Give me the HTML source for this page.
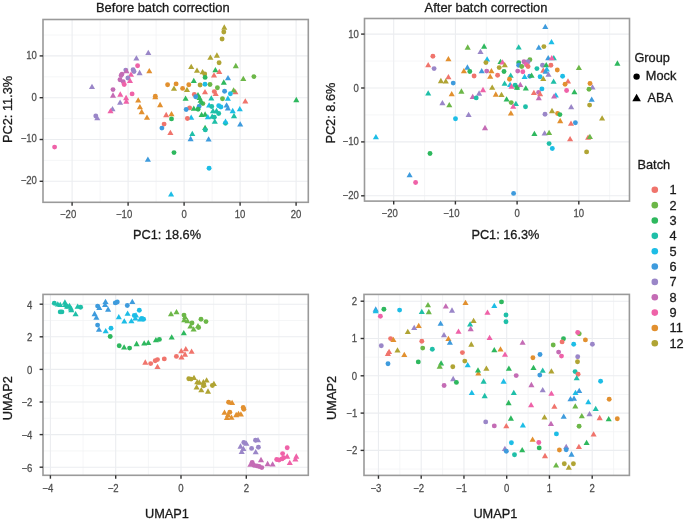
<!DOCTYPE html>
<html><head><meta charset="utf-8"><style>
html,body{margin:0;padding:0;background:#fff;width:685px;height:520px;overflow:hidden}
svg text{font-family:"Liberation Sans", sans-serif}
svg{will-change:transform;filter:blur(0.3px)}
</style></head><body>
<svg width="685" height="520" viewBox="0 0 685 520" style="position:absolute;left:0;top:0">
<rect width="685" height="520" fill="#fff"/>
<line x1="100.10" y1="19.5" x2="100.10" y2="202.3" stroke="#F3F4F5" stroke-width="0.8"/>
<line x1="156.10" y1="19.5" x2="156.10" y2="202.3" stroke="#F3F4F5" stroke-width="0.8"/>
<line x1="212.10" y1="19.5" x2="212.10" y2="202.3" stroke="#F3F4F5" stroke-width="0.8"/>
<line x1="268.10" y1="19.5" x2="268.10" y2="202.3" stroke="#F3F4F5" stroke-width="0.8"/>
<line x1="43" y1="35.00" x2="308.3" y2="35.00" stroke="#F3F4F5" stroke-width="0.8"/>
<line x1="43" y1="76.80" x2="308.3" y2="76.80" stroke="#F3F4F5" stroke-width="0.8"/>
<line x1="43" y1="118.60" x2="308.3" y2="118.60" stroke="#F3F4F5" stroke-width="0.8"/>
<line x1="43" y1="160.40" x2="308.3" y2="160.40" stroke="#F3F4F5" stroke-width="0.8"/>
<line x1="72.10" y1="19.5" x2="72.10" y2="202.3" stroke="#EBEDF0" stroke-width="1.1"/>
<line x1="128.10" y1="19.5" x2="128.10" y2="202.3" stroke="#EBEDF0" stroke-width="1.1"/>
<line x1="184.10" y1="19.5" x2="184.10" y2="202.3" stroke="#EBEDF0" stroke-width="1.1"/>
<line x1="240.10" y1="19.5" x2="240.10" y2="202.3" stroke="#EBEDF0" stroke-width="1.1"/>
<line x1="296.10" y1="19.5" x2="296.10" y2="202.3" stroke="#EBEDF0" stroke-width="1.1"/>
<line x1="43" y1="55.90" x2="308.3" y2="55.90" stroke="#EBEDF0" stroke-width="1.1"/>
<line x1="43" y1="97.70" x2="308.3" y2="97.70" stroke="#EBEDF0" stroke-width="1.1"/>
<line x1="43" y1="139.50" x2="308.3" y2="139.50" stroke="#EBEDF0" stroke-width="1.1"/>
<line x1="43" y1="181.30" x2="308.3" y2="181.30" stroke="#EBEDF0" stroke-width="1.1"/>
<line x1="424.55" y1="18.5" x2="424.55" y2="201.1" stroke="#F3F4F5" stroke-width="0.8"/>
<line x1="486.25" y1="18.5" x2="486.25" y2="201.1" stroke="#F3F4F5" stroke-width="0.8"/>
<line x1="547.95" y1="18.5" x2="547.95" y2="201.1" stroke="#F3F4F5" stroke-width="0.8"/>
<line x1="609.65" y1="18.5" x2="609.65" y2="201.1" stroke="#F3F4F5" stroke-width="0.8"/>
<line x1="364.5" y1="61.05" x2="629.5" y2="61.05" stroke="#F3F4F5" stroke-width="0.8"/>
<line x1="364.5" y1="114.95" x2="629.5" y2="114.95" stroke="#F3F4F5" stroke-width="0.8"/>
<line x1="364.5" y1="168.85" x2="629.5" y2="168.85" stroke="#F3F4F5" stroke-width="0.8"/>
<line x1="393.70" y1="18.5" x2="393.70" y2="201.1" stroke="#EBEDF0" stroke-width="1.1"/>
<line x1="455.40" y1="18.5" x2="455.40" y2="201.1" stroke="#EBEDF0" stroke-width="1.1"/>
<line x1="517.10" y1="18.5" x2="517.10" y2="201.1" stroke="#EBEDF0" stroke-width="1.1"/>
<line x1="578.80" y1="18.5" x2="578.80" y2="201.1" stroke="#EBEDF0" stroke-width="1.1"/>
<line x1="364.5" y1="34.10" x2="629.5" y2="34.10" stroke="#EBEDF0" stroke-width="1.1"/>
<line x1="364.5" y1="88.00" x2="629.5" y2="88.00" stroke="#EBEDF0" stroke-width="1.1"/>
<line x1="364.5" y1="141.90" x2="629.5" y2="141.90" stroke="#EBEDF0" stroke-width="1.1"/>
<line x1="364.5" y1="195.80" x2="629.5" y2="195.80" stroke="#EBEDF0" stroke-width="1.1"/>
<line x1="83.05" y1="294.4" x2="83.05" y2="475.3" stroke="#F3F4F5" stroke-width="0.8"/>
<line x1="148.35" y1="294.4" x2="148.35" y2="475.3" stroke="#F3F4F5" stroke-width="0.8"/>
<line x1="213.65" y1="294.4" x2="213.65" y2="475.3" stroke="#F3F4F5" stroke-width="0.8"/>
<line x1="278.95" y1="294.4" x2="278.95" y2="475.3" stroke="#F3F4F5" stroke-width="0.8"/>
<line x1="43" y1="320.50" x2="308.3" y2="320.50" stroke="#F3F4F5" stroke-width="0.8"/>
<line x1="43" y1="353.10" x2="308.3" y2="353.10" stroke="#F3F4F5" stroke-width="0.8"/>
<line x1="43" y1="385.70" x2="308.3" y2="385.70" stroke="#F3F4F5" stroke-width="0.8"/>
<line x1="43" y1="418.30" x2="308.3" y2="418.30" stroke="#F3F4F5" stroke-width="0.8"/>
<line x1="43" y1="450.90" x2="308.3" y2="450.90" stroke="#F3F4F5" stroke-width="0.8"/>
<line x1="50.40" y1="294.4" x2="50.40" y2="475.3" stroke="#EBEDF0" stroke-width="1.1"/>
<line x1="115.70" y1="294.4" x2="115.70" y2="475.3" stroke="#EBEDF0" stroke-width="1.1"/>
<line x1="181.00" y1="294.4" x2="181.00" y2="475.3" stroke="#EBEDF0" stroke-width="1.1"/>
<line x1="246.30" y1="294.4" x2="246.30" y2="475.3" stroke="#EBEDF0" stroke-width="1.1"/>
<line x1="43" y1="304.20" x2="308.3" y2="304.20" stroke="#EBEDF0" stroke-width="1.1"/>
<line x1="43" y1="336.80" x2="308.3" y2="336.80" stroke="#EBEDF0" stroke-width="1.1"/>
<line x1="43" y1="369.40" x2="308.3" y2="369.40" stroke="#EBEDF0" stroke-width="1.1"/>
<line x1="43" y1="402.00" x2="308.3" y2="402.00" stroke="#EBEDF0" stroke-width="1.1"/>
<line x1="43" y1="434.60" x2="308.3" y2="434.60" stroke="#EBEDF0" stroke-width="1.1"/>
<line x1="43" y1="467.20" x2="308.3" y2="467.20" stroke="#EBEDF0" stroke-width="1.1"/>
<line x1="399.82" y1="294.4" x2="399.82" y2="475.4" stroke="#F3F4F5" stroke-width="0.8"/>
<line x1="442.57" y1="294.4" x2="442.57" y2="475.4" stroke="#F3F4F5" stroke-width="0.8"/>
<line x1="485.32" y1="294.4" x2="485.32" y2="475.4" stroke="#F3F4F5" stroke-width="0.8"/>
<line x1="528.08" y1="294.4" x2="528.08" y2="475.4" stroke="#F3F4F5" stroke-width="0.8"/>
<line x1="570.83" y1="294.4" x2="570.83" y2="475.4" stroke="#F3F4F5" stroke-width="0.8"/>
<line x1="613.58" y1="294.4" x2="613.58" y2="475.4" stroke="#F3F4F5" stroke-width="0.8"/>
<line x1="364" y1="319.85" x2="629.4" y2="319.85" stroke="#F3F4F5" stroke-width="0.8"/>
<line x1="364" y1="357.15" x2="629.4" y2="357.15" stroke="#F3F4F5" stroke-width="0.8"/>
<line x1="364" y1="394.45" x2="629.4" y2="394.45" stroke="#F3F4F5" stroke-width="0.8"/>
<line x1="364" y1="431.75" x2="629.4" y2="431.75" stroke="#F3F4F5" stroke-width="0.8"/>
<line x1="364" y1="469.05" x2="629.4" y2="469.05" stroke="#F3F4F5" stroke-width="0.8"/>
<line x1="378.45" y1="294.4" x2="378.45" y2="475.4" stroke="#EBEDF0" stroke-width="1.1"/>
<line x1="421.20" y1="294.4" x2="421.20" y2="475.4" stroke="#EBEDF0" stroke-width="1.1"/>
<line x1="463.95" y1="294.4" x2="463.95" y2="475.4" stroke="#EBEDF0" stroke-width="1.1"/>
<line x1="506.70" y1="294.4" x2="506.70" y2="475.4" stroke="#EBEDF0" stroke-width="1.1"/>
<line x1="549.45" y1="294.4" x2="549.45" y2="475.4" stroke="#EBEDF0" stroke-width="1.1"/>
<line x1="592.20" y1="294.4" x2="592.20" y2="475.4" stroke="#EBEDF0" stroke-width="1.1"/>
<line x1="364" y1="301.20" x2="629.4" y2="301.20" stroke="#EBEDF0" stroke-width="1.1"/>
<line x1="364" y1="338.50" x2="629.4" y2="338.50" stroke="#EBEDF0" stroke-width="1.1"/>
<line x1="364" y1="375.80" x2="629.4" y2="375.80" stroke="#EBEDF0" stroke-width="1.1"/>
<line x1="364" y1="413.10" x2="629.4" y2="413.10" stroke="#EBEDF0" stroke-width="1.1"/>
<line x1="364" y1="450.40" x2="629.4" y2="450.40" stroke="#EBEDF0" stroke-width="1.1"/>
<path d="M148.30,49.66L145.25,54.94L151.35,54.94Z" fill="#9A86C8"/>
<path d="M136.40,55.16L133.35,60.44L139.45,60.44Z" fill="#9A86C8"/>
<circle cx="137.6" cy="65.7" r="2.45" fill="#EF62A8"/>
<path d="M149.30,68.06L146.25,73.34L152.35,73.34Z" fill="#E2902F"/>
<path d="M139.60,69.86L136.55,75.14L142.65,75.14Z" fill="#9A86C8"/>
<circle cx="133.1" cy="69.8" r="2.45" fill="#9A86C8"/>
<circle cx="134.0" cy="71.5" r="2.45" fill="#9A86C8"/>
<circle cx="125.8" cy="70.1" r="2.45" fill="#9A86C8"/>
<path d="M126.50,67.96L123.45,73.24L129.55,73.24Z" fill="#C46CB5"/>
<circle cx="122.0" cy="74.1" r="2.45" fill="#C46CB5"/>
<circle cx="121.1" cy="75.5" r="2.45" fill="#C46CB5"/>
<path d="M131.00,71.46L127.95,76.74L134.05,76.74Z" fill="#EF62A8"/>
<circle cx="127.9" cy="78.0" r="2.45" fill="#9A86C8"/>
<path d="M130.00,77.66L126.95,82.94L133.05,82.94Z" fill="#EF62A8"/>
<circle cx="120.0" cy="79.7" r="2.45" fill="#C46CB5"/>
<circle cx="123.2" cy="81.8" r="2.45" fill="#C46CB5"/>
<circle cx="124.2" cy="84.5" r="2.45" fill="#EF62A8"/>
<path d="M92.00,83.66L88.95,88.94L95.05,88.94Z" fill="#9A86C8"/>
<circle cx="113.0" cy="89.6" r="2.45" fill="#C46CB5"/>
<path d="M113.00,92.36L109.95,97.64L116.05,97.64Z" fill="#C46CB5"/>
<path d="M120.30,91.36L117.25,96.64L123.35,96.64Z" fill="#EF62A8"/>
<circle cx="132.1" cy="93.9" r="2.45" fill="#EF62A8"/>
<path d="M126.10,94.86L123.05,100.14L129.15,100.14Z" fill="#EF62A8"/>
<path d="M126.30,98.36L123.25,103.64L129.35,103.64Z" fill="#EF62A8"/>
<path d="M120.10,99.56L117.05,104.84L123.15,104.84Z" fill="#9A86C8"/>
<path d="M112.50,105.96L109.45,111.24L115.55,111.24Z" fill="#9A86C8"/>
<path d="M110.50,107.96L107.45,113.24L113.55,113.24Z" fill="#EF62A8"/>
<circle cx="95.8" cy="116.0" r="2.45" fill="#9A86C8"/>
<path d="M97.30,114.96L94.25,120.24L100.35,120.24Z" fill="#9A86C8"/>
<circle cx="54.6" cy="147.1" r="2.45" fill="#EF62A8"/>
<path d="M138.20,97.26L135.15,102.54L141.25,102.54Z" fill="#E2902F"/>
<path d="M139.90,103.96L136.85,109.24L142.95,109.24Z" fill="#E2902F"/>
<path d="M141.70,108.86L138.65,114.14L144.75,114.14Z" fill="#E2902F"/>
<path d="M147.00,114.46L143.95,119.74L150.05,119.74Z" fill="#E2902F"/>
<circle cx="167.6" cy="84.7" r="2.45" fill="#E2902F"/>
<circle cx="176.1" cy="83.9" r="2.45" fill="#E2902F"/>
<circle cx="182.6" cy="88.4" r="2.45" fill="#E2902F"/>
<circle cx="188.8" cy="84.7" r="2.45" fill="#E2902F"/>
<path d="M155.30,93.96L152.25,99.24L158.35,99.24Z" fill="#E2902F"/>
<circle cx="155.3" cy="96.2" r="2.45" fill="#E2902F"/>
<path d="M160.10,101.86L157.05,107.14L163.15,107.14Z" fill="#E2902F"/>
<path d="M171.50,110.96L168.45,116.24L174.55,116.24Z" fill="#E2902F"/>
<path d="M224.30,24.36L221.25,29.64L227.35,29.64Z" fill="#B0A434"/>
<circle cx="223.8" cy="32.0" r="2.45" fill="#B0A434"/>
<circle cx="222.1" cy="39.0" r="2.45" fill="#B0A434"/>
<path d="M210.40,54.46L207.35,59.74L213.45,59.74Z" fill="#B0A434"/>
<path d="M216.90,52.36L213.85,57.64L219.95,57.64Z" fill="#B0A434"/>
<circle cx="219.1" cy="62.7" r="2.45" fill="#B0A434"/>
<path d="M191.20,63.76L188.15,69.04L194.25,69.04Z" fill="#B0A434"/>
<path d="M197.00,67.56L193.95,72.84L200.05,72.84Z" fill="#B0A434"/>
<path d="M202.60,68.96L199.55,74.24L205.65,74.24Z" fill="#B0A434"/>
<circle cx="204.7" cy="74.0" r="2.45" fill="#B0A434"/>
<path d="M174.00,85.56L170.95,90.84L177.05,90.84Z" fill="#B0A434"/>
<path d="M187.00,86.76L183.95,92.04L190.05,92.04Z" fill="#B0A434"/>
<circle cx="200.1" cy="85.0" r="2.45" fill="#B0A434"/>
<path d="M215.40,66.96L212.35,72.24L218.45,72.24Z" fill="#2EB85E"/>
<path d="M219.30,68.76L216.25,74.04L222.35,74.04Z" fill="#F0746C"/>
<path d="M214.00,72.16L210.95,77.44L217.05,77.44Z" fill="#F0746C"/>
<circle cx="205.1" cy="77.4" r="2.45" fill="#2EB85E"/>
<path d="M193.80,77.76L190.75,83.04L196.85,83.04Z" fill="#2EB85E"/>
<path d="M228.00,75.06L224.95,80.34L231.05,80.34Z" fill="#3E9BDD"/>
<path d="M235.80,62.86L232.75,68.14L238.85,68.14Z" fill="#6CB748"/>
<circle cx="253.9" cy="76.6" r="2.45" fill="#6CB748"/>
<path d="M243.30,75.66L240.25,80.94L246.35,80.94Z" fill="#6CB748"/>
<circle cx="205.0" cy="84.2" r="2.45" fill="#1DBDE6"/>
<circle cx="210.0" cy="84.5" r="2.45" fill="#6CB748"/>
<circle cx="217.4" cy="87.7" r="2.45" fill="#6CB748"/>
<path d="M223.80,79.36L220.75,84.64L226.85,84.64Z" fill="#2EB85E"/>
<path d="M205.00,88.96L201.95,94.24L208.05,94.24Z" fill="#F0746C"/>
<circle cx="214.3" cy="91.6" r="2.45" fill="#F0746C"/>
<path d="M215.70,90.76L212.65,96.04L218.75,96.04Z" fill="#F0746C"/>
<circle cx="224.6" cy="91.2" r="2.45" fill="#3E9BDD"/>
<path d="M235.40,88.96L232.35,94.24L238.45,94.24Z" fill="#F0746C"/>
<path d="M233.60,87.26L230.55,92.54L236.65,92.54Z" fill="#6CB748"/>
<circle cx="230.4" cy="93.8" r="2.45" fill="#1DBDE6"/>
<circle cx="194.3" cy="94.5" r="2.45" fill="#F0746C"/>
<circle cx="202.9" cy="103.6" r="2.45" fill="#6CB748"/>
<path d="M198.00,91.96L194.95,97.24L201.05,97.24Z" fill="#2EB85E"/>
<path d="M199.50,94.76L196.45,100.04L202.55,100.04Z" fill="#2EB85E"/>
<path d="M200.60,97.56L197.55,102.84L203.65,102.84Z" fill="#2EB85E"/>
<path d="M201.60,99.36L198.55,104.64L204.65,104.64Z" fill="#2EB85E"/>
<circle cx="195.7" cy="96.8" r="2.45" fill="#3E9BDD"/>
<path d="M185.60,95.56L182.55,100.84L188.65,100.84Z" fill="#2EB85E"/>
<path d="M211.30,95.16L208.25,100.44L214.35,100.44Z" fill="#1FBFA8"/>
<circle cx="222.5" cy="98.8" r="2.45" fill="#6CB748"/>
<path d="M227.90,95.56L224.85,100.84L230.95,100.84Z" fill="#1DBDE6"/>
<path d="M245.30,98.16L242.25,103.44L248.35,103.44Z" fill="#F0746C"/>
<path d="M296.30,96.86L293.25,102.14L299.35,102.14Z" fill="#2EB85E"/>
<circle cx="199.1" cy="106.4" r="2.45" fill="#3E9BDD"/>
<circle cx="189.6" cy="107.9" r="2.45" fill="#F0746C"/>
<circle cx="186.2" cy="109.5" r="2.45" fill="#3E9BDD"/>
<path d="M193.80,105.56L190.75,110.84L196.85,110.84Z" fill="#2EB85E"/>
<circle cx="198.1" cy="109.2" r="2.45" fill="#2EB85E"/>
<path d="M209.10,102.16L206.05,107.44L212.15,107.44Z" fill="#1DBDE6"/>
<circle cx="211.7" cy="106.5" r="2.45" fill="#1FBFA8"/>
<circle cx="218.7" cy="105.7" r="2.45" fill="#1DBDE6"/>
<circle cx="220.9" cy="107.0" r="2.45" fill="#1DBDE6"/>
<path d="M226.60,102.16L223.55,107.44L229.65,107.44Z" fill="#3E9BDD"/>
<path d="M227.90,105.16L224.85,110.44L230.95,110.44Z" fill="#3E9BDD"/>
<path d="M232.70,107.86L229.65,113.14L235.75,113.14Z" fill="#1DBDE6"/>
<path d="M239.80,105.96L236.75,111.24L242.85,111.24Z" fill="#1DBDE6"/>
<path d="M213.00,107.86L209.95,113.14L216.05,113.14Z" fill="#1FBFA8"/>
<path d="M216.50,107.86L213.45,113.14L219.55,113.14Z" fill="#1FBFA8"/>
<circle cx="218.7" cy="113.5" r="2.45" fill="#1FBFA8"/>
<path d="M201.60,111.76L198.55,117.04L204.65,117.04Z" fill="#2EB85E"/>
<path d="M205.10,111.36L202.05,116.64L208.15,116.64Z" fill="#2EB85E"/>
<path d="M207.80,113.96L204.75,119.24L210.85,119.24Z" fill="#1DBDE6"/>
<path d="M212.20,113.56L209.15,118.84L215.25,118.84Z" fill="#1FBFA8"/>
<circle cx="214.3" cy="117.2" r="2.45" fill="#1FBFA8"/>
<path d="M234.00,112.86L230.95,118.14L237.05,118.14Z" fill="#1FBFA8"/>
<path d="M191.20,114.56L188.15,119.84L194.25,119.84Z" fill="#1DBDE6"/>
<circle cx="187.4" cy="118.5" r="2.45" fill="#F0746C"/>
<path d="M166.20,111.86L163.15,117.14L169.25,117.14Z" fill="#F0746C"/>
<circle cx="171.5" cy="118.9" r="2.45" fill="#2EB85E"/>
<circle cx="164.1" cy="124.1" r="2.45" fill="#F0746C"/>
<circle cx="161.9" cy="128.1" r="2.45" fill="#3E9BDD"/>
<path d="M170.40,129.66L167.35,134.94L173.45,134.94Z" fill="#F0746C"/>
<path d="M214.80,118.46L211.75,123.74L217.85,123.74Z" fill="#1FBFA8"/>
<circle cx="225.5" cy="123.3" r="2.45" fill="#1FBFA8"/>
<path d="M225.50,118.46L222.45,123.74L228.55,123.74Z" fill="#1DBDE6"/>
<path d="M240.20,121.16L237.15,126.44L243.25,126.44Z" fill="#3E9BDD"/>
<path d="M205.10,124.66L202.05,129.94L208.15,129.94Z" fill="#2EB85E"/>
<circle cx="205.3" cy="129.9" r="2.45" fill="#1FBFA8"/>
<path d="M192.30,130.66L189.25,135.94L195.35,135.94Z" fill="#1FBFA8"/>
<path d="M190.60,135.86L187.55,141.14L193.65,141.14Z" fill="#3E9BDD"/>
<path d="M208.60,136.16L205.55,141.44L211.65,141.44Z" fill="#3E9BDD"/>
<circle cx="209.1" cy="168.2" r="2.45" fill="#1DBDE6"/>
<circle cx="174.0" cy="152.6" r="2.45" fill="#2EB85E"/>
<path d="M147.90,156.56L144.85,161.84L150.95,161.84Z" fill="#3E9BDD"/>
<path d="M171.10,191.16L168.05,196.44L174.15,196.44Z" fill="#1DBDE6"/>
<circle cx="432.9" cy="56.2" r="2.45" fill="#F0746C"/>
<path d="M428.20,62.06L425.15,67.34L431.25,67.34Z" fill="#F0746C"/>
<circle cx="434.1" cy="68.6" r="2.45" fill="#9A86C8"/>
<path d="M467.70,44.36L464.65,49.64L470.75,49.64Z" fill="#6CB748"/>
<path d="M484.10,43.36L481.05,48.64L487.15,48.64Z" fill="#2EB85E"/>
<path d="M480.50,48.66L477.45,53.94L483.55,53.94Z" fill="#9A86C8"/>
<path d="M448.40,55.96L445.35,61.24L451.45,61.24Z" fill="#E2902F"/>
<path d="M487.10,56.26L484.05,61.54L490.15,61.54Z" fill="#1DBDE6"/>
<circle cx="485.9" cy="62.6" r="2.45" fill="#B0A434"/>
<path d="M500.50,58.76L497.45,64.04L503.55,64.04Z" fill="#2EB85E"/>
<path d="M502.50,59.16L499.45,64.44L505.55,64.44Z" fill="#EF62A8"/>
<path d="M504.80,62.06L501.75,67.34L507.85,67.34Z" fill="#B0A434"/>
<circle cx="499.2" cy="67.6" r="2.45" fill="#B0A434"/>
<circle cx="504.0" cy="71.5" r="2.45" fill="#2EB85E"/>
<path d="M518.70,44.16L515.65,49.44L521.75,49.44Z" fill="#1FBFA8"/>
<circle cx="518.7" cy="62.8" r="2.45" fill="#2EB85E"/>
<circle cx="518.7" cy="65.3" r="2.45" fill="#3E9BDD"/>
<circle cx="517.7" cy="71.1" r="2.45" fill="#C46CB5"/>
<path d="M467.40,64.36L464.35,69.64L470.45,69.64Z" fill="#3E9BDD"/>
<path d="M463.90,67.96L460.85,73.24L466.95,73.24Z" fill="#E2902F"/>
<circle cx="469.8" cy="71.5" r="2.45" fill="#2EB85E"/>
<path d="M481.70,67.96L478.65,73.24L484.75,73.24Z" fill="#3E9BDD"/>
<circle cx="486.7" cy="71.1" r="2.45" fill="#C46CB5"/>
<path d="M491.40,67.96L488.35,73.24L494.45,73.24Z" fill="#E2902F"/>
<path d="M448.40,73.96L445.35,79.24L451.45,79.24Z" fill="#F0746C"/>
<circle cx="474.1" cy="76.0" r="2.45" fill="#F0746C"/>
<path d="M490.20,73.56L487.15,78.84L493.25,78.84Z" fill="#E2902F"/>
<circle cx="497.6" cy="75.3" r="2.45" fill="#F0746C"/>
<path d="M510.70,72.46L507.65,77.74L513.75,77.74Z" fill="#1FBFA8"/>
<path d="M545.30,23.76L542.25,29.04L548.35,29.04Z" fill="#3E9BDD"/>
<path d="M551.50,38.96L548.45,44.24L554.55,44.24Z" fill="#1DBDE6"/>
<path d="M538.80,44.56L535.75,49.84L541.85,49.84Z" fill="#3E9BDD"/>
<circle cx="543.9" cy="46.6" r="2.45" fill="#B0A434"/>
<path d="M548.20,55.06L545.15,60.34L551.25,60.34Z" fill="#3E9BDD"/>
<path d="M553.80,55.06L550.75,60.34L556.85,60.34Z" fill="#1FBFA8"/>
<path d="M551.80,55.06L548.75,60.34L554.85,60.34Z" fill="#EF62A8"/>
<circle cx="529.9" cy="59.7" r="2.45" fill="#6CB748"/>
<circle cx="524.0" cy="61.8" r="2.45" fill="#C46CB5"/>
<circle cx="528.1" cy="61.8" r="2.45" fill="#9A86C8"/>
<circle cx="526.4" cy="64.7" r="2.45" fill="#EF62A8"/>
<circle cx="528.1" cy="66.5" r="2.45" fill="#F0746C"/>
<circle cx="521.7" cy="66.5" r="2.45" fill="#6CB748"/>
<circle cx="522.8" cy="71.7" r="2.45" fill="#EF62A8"/>
<circle cx="536.9" cy="68.6" r="2.45" fill="#1FBFA8"/>
<circle cx="542.5" cy="65.3" r="2.45" fill="#9A86C8"/>
<path d="M546.20,62.06L543.15,67.34L549.25,67.34Z" fill="#2EB85E"/>
<circle cx="550.9" cy="65.3" r="2.45" fill="#F0746C"/>
<path d="M543.30,67.36L540.25,72.64L546.35,72.64Z" fill="#F0746C"/>
<path d="M546.80,66.16L543.75,71.44L549.85,71.44Z" fill="#1DBDE6"/>
<path d="M545.60,68.46L542.55,73.74L548.65,73.74Z" fill="#3E9BDD"/>
<circle cx="557.3" cy="70.0" r="2.45" fill="#E2902F"/>
<path d="M548.50,71.46L545.45,76.74L551.55,76.74Z" fill="#9A86C8"/>
<path d="M578.90,64.66L575.85,69.94L581.95,69.94Z" fill="#6CB748"/>
<path d="M524.60,73.66L521.55,78.94L527.65,78.94Z" fill="#1DBDE6"/>
<circle cx="529.8" cy="76.2" r="2.45" fill="#3E9BDD"/>
<path d="M531.60,72.56L528.55,77.84L534.65,77.84Z" fill="#2EB85E"/>
<circle cx="540.1" cy="76.8" r="2.45" fill="#1DBDE6"/>
<circle cx="562.6" cy="76.3" r="2.45" fill="#1DBDE6"/>
<path d="M617.40,60.36L614.35,65.64L620.45,65.64Z" fill="#2EB85E"/>
<path d="M440.90,77.86L437.85,83.14L443.95,83.14Z" fill="#B0A434"/>
<path d="M445.80,78.16L442.75,83.44L448.85,83.44Z" fill="#B0A434"/>
<circle cx="453.2" cy="83.1" r="2.45" fill="#3E9BDD"/>
<path d="M428.20,90.16L425.15,95.44L431.25,95.44Z" fill="#1FBFA8"/>
<path d="M442.40,99.96L439.35,105.24L445.45,105.24Z" fill="#9A86C8"/>
<path d="M375.90,134.06L372.85,139.34L378.95,139.34Z" fill="#1DBDE6"/>
<circle cx="509.5" cy="79.2" r="2.45" fill="#E2902F"/>
<path d="M504.60,80.46L501.55,85.74L507.65,85.74Z" fill="#1FBFA8"/>
<path d="M510.10,81.66L507.05,86.94L513.15,86.94Z" fill="#1DBDE6"/>
<path d="M511.50,83.36L508.45,88.64L514.55,88.64Z" fill="#EF62A8"/>
<circle cx="515.1" cy="85.1" r="2.45" fill="#1FBFA8"/>
<circle cx="517.1" cy="87.6" r="2.45" fill="#2EB85E"/>
<path d="M492.20,84.56L489.15,89.84L495.25,89.84Z" fill="#B0A434"/>
<path d="M483.00,86.86L479.95,92.14L486.05,92.14Z" fill="#EF62A8"/>
<path d="M461.40,88.36L458.35,93.64L464.45,93.64Z" fill="#6CB748"/>
<path d="M451.70,90.96L448.65,96.24L454.75,96.24Z" fill="#E2902F"/>
<path d="M479.10,90.36L476.05,95.64L482.15,95.64Z" fill="#9A86C8"/>
<path d="M472.70,93.66L469.65,98.94L475.75,98.94Z" fill="#C46CB5"/>
<circle cx="476.2" cy="97.9" r="2.45" fill="#1FBFA8"/>
<path d="M495.80,91.36L492.75,96.64L498.85,96.64Z" fill="#E2902F"/>
<path d="M501.50,91.76L498.45,97.04L504.55,97.04Z" fill="#B0A434"/>
<path d="M506.60,96.26L503.55,101.54L509.65,101.54Z" fill="#2EB85E"/>
<circle cx="511.2" cy="102.6" r="2.45" fill="#6CB748"/>
<path d="M515.90,100.66L512.85,105.94L518.95,105.94Z" fill="#1FBFA8"/>
<path d="M513.20,103.56L510.15,108.84L516.25,108.84Z" fill="#EF62A8"/>
<path d="M510.90,110.26L507.85,115.54L513.95,115.54Z" fill="#E2902F"/>
<path d="M449.30,102.06L446.25,107.34L452.35,107.34Z" fill="#6CB748"/>
<path d="M468.60,111.66L465.55,116.94L471.65,116.94Z" fill="#9A86C8"/>
<circle cx="455.5" cy="118.7" r="2.45" fill="#1DBDE6"/>
<path d="M485.00,124.86L481.95,130.14L488.05,130.14Z" fill="#C46CB5"/>
<path d="M543.30,75.76L540.25,81.04L546.35,81.04Z" fill="#B0A434"/>
<path d="M553.60,78.46L550.55,83.74L556.65,83.74Z" fill="#1FBFA8"/>
<path d="M568.00,78.16L564.95,83.44L571.05,83.44Z" fill="#F0746C"/>
<circle cx="565.1" cy="84.3" r="2.45" fill="#E2902F"/>
<circle cx="566.6" cy="90.5" r="2.45" fill="#EF62A8"/>
<path d="M574.40,88.96L571.35,94.24L577.45,94.24Z" fill="#2EB85E"/>
<circle cx="541.9" cy="88.9" r="2.45" fill="#1DBDE6"/>
<path d="M533.90,89.76L530.85,95.04L536.95,95.04Z" fill="#F0746C"/>
<circle cx="538.6" cy="92.4" r="2.45" fill="#C46CB5"/>
<path d="M540.10,90.96L537.05,96.24L543.15,96.24Z" fill="#F0746C"/>
<path d="M538.80,95.06L535.75,100.34L541.85,100.34Z" fill="#C46CB5"/>
<path d="M555.80,92.16L552.75,97.44L558.85,97.44Z" fill="#1DBDE6"/>
<path d="M554.10,93.26L551.05,98.54L557.15,98.54Z" fill="#C46CB5"/>
<path d="M520.30,81.66L517.25,86.94L523.35,86.94Z" fill="#C46CB5"/>
<path d="M517.00,84.56L513.95,89.84L520.05,89.84Z" fill="#2EB85E"/>
<path d="M525.80,85.16L522.75,90.44L528.85,90.44Z" fill="#2EB85E"/>
<circle cx="525.5" cy="106.7" r="2.45" fill="#1FBFA8"/>
<path d="M571.20,104.06L568.15,109.34L574.25,109.34Z" fill="#9A86C8"/>
<path d="M552.00,107.86L548.95,113.14L555.05,113.14Z" fill="#B0A434"/>
<circle cx="545.0" cy="114.3" r="2.45" fill="#9A86C8"/>
<circle cx="557.6" cy="113.5" r="2.45" fill="#E2902F"/>
<circle cx="559.9" cy="114.6" r="2.45" fill="#2EB85E"/>
<path d="M560.20,117.86L557.15,123.14L563.25,123.14Z" fill="#E2902F"/>
<path d="M571.00,120.56L567.95,125.84L574.05,125.84Z" fill="#F0746C"/>
<circle cx="575.4" cy="122.8" r="2.45" fill="#3E9BDD"/>
<circle cx="590.0" cy="83.5" r="2.45" fill="#E2902F"/>
<path d="M592.50,84.16L589.45,89.44L595.55,89.44Z" fill="#9A86C8"/>
<circle cx="589.0" cy="89.3" r="2.45" fill="#6CB748"/>
<path d="M591.70,96.46L588.65,101.74L594.75,101.74Z" fill="#3E9BDD"/>
<circle cx="589.6" cy="105.1" r="2.45" fill="#B0A434"/>
<path d="M602.10,115.16L599.05,120.44L605.15,120.44Z" fill="#B0A434"/>
<circle cx="430.0" cy="153.5" r="2.45" fill="#2EB85E"/>
<path d="M409.60,171.96L406.55,177.24L412.65,177.24Z" fill="#3E9BDD"/>
<circle cx="415.6" cy="182.5" r="2.45" fill="#EF62A8"/>
<circle cx="513.6" cy="193.4" r="2.45" fill="#3E9BDD"/>
<path d="M534.40,130.76L531.35,136.04L537.45,136.04Z" fill="#2EB85E"/>
<path d="M544.60,130.16L541.55,135.44L547.65,135.44Z" fill="#9A86C8"/>
<path d="M549.10,129.76L546.05,135.04L552.15,135.04Z" fill="#6CB748"/>
<path d="M570.10,136.06L567.05,141.34L573.15,141.34Z" fill="#F0746C"/>
<path d="M588.10,134.56L585.05,139.84L591.15,139.84Z" fill="#F0746C"/>
<path d="M589.90,133.76L586.85,139.04L592.95,139.04Z" fill="#6CB748"/>
<circle cx="549.1" cy="143.6" r="2.45" fill="#1FBFA8"/>
<circle cx="552.3" cy="148.5" r="2.45" fill="#1DBDE6"/>
<circle cx="586.6" cy="151.9" r="2.45" fill="#B0A434"/>
<circle cx="54.3" cy="303.2" r="2.45" fill="#1FBFA8"/>
<path d="M57.80,301.16L54.75,306.44L60.85,306.44Z" fill="#1FBFA8"/>
<path d="M60.20,301.66L57.15,306.94L63.25,306.94Z" fill="#1FBFA8"/>
<path d="M64.90,299.36L61.85,304.64L67.95,304.64Z" fill="#1FBFA8"/>
<path d="M65.40,301.66L62.35,306.94L68.45,306.94Z" fill="#1FBFA8"/>
<path d="M67.20,303.46L64.15,308.74L70.25,308.74Z" fill="#1FBFA8"/>
<circle cx="66.6" cy="306.1" r="2.45" fill="#1FBFA8"/>
<path d="M69.50,302.86L66.45,308.14L72.55,308.14Z" fill="#1FBFA8"/>
<path d="M70.90,305.16L67.85,310.44L73.95,310.44Z" fill="#1FBFA8"/>
<path d="M71.30,306.96L68.25,312.24L74.35,312.24Z" fill="#1FBFA8"/>
<circle cx="60.2" cy="311.9" r="2.45" fill="#1FBFA8"/>
<circle cx="61.9" cy="311.9" r="2.45" fill="#1FBFA8"/>
<path d="M75.60,311.06L72.55,316.34L78.65,316.34Z" fill="#1FBFA8"/>
<path d="M77.70,303.46L74.65,308.74L80.75,308.74Z" fill="#1FBFA8"/>
<circle cx="80.6" cy="307.3" r="2.45" fill="#1FBFA8"/>
<circle cx="97.6" cy="306.1" r="2.45" fill="#3E9BDD"/>
<path d="M99.30,304.66L96.25,309.94L102.35,309.94Z" fill="#3E9BDD"/>
<path d="M105.50,298.76L102.45,304.04L108.55,304.04Z" fill="#3E9BDD"/>
<path d="M105.10,301.66L102.05,306.94L108.15,306.94Z" fill="#3E9BDD"/>
<path d="M108.10,306.36L105.05,311.64L111.15,311.64Z" fill="#3E9BDD"/>
<circle cx="115.3" cy="302.9" r="2.45" fill="#3E9BDD"/>
<circle cx="117.3" cy="302.0" r="2.45" fill="#3E9BDD"/>
<path d="M94.60,310.86L91.55,316.14L97.65,316.14Z" fill="#3E9BDD"/>
<path d="M96.40,314.56L93.35,319.84L99.45,319.84Z" fill="#3E9BDD"/>
<circle cx="97.6" cy="325.1" r="2.45" fill="#3E9BDD"/>
<path d="M99.00,326.46L95.95,331.74L102.05,331.74Z" fill="#3E9BDD"/>
<circle cx="127.3" cy="305.5" r="2.45" fill="#3E9BDD"/>
<path d="M132.30,298.76L129.25,304.04L135.35,304.04Z" fill="#3E9BDD"/>
<path d="M105.70,327.96L102.65,333.24L108.75,333.24Z" fill="#1DBDE6"/>
<circle cx="111.0" cy="328.3" r="2.45" fill="#1DBDE6"/>
<path d="M118.80,313.96L115.75,319.24L121.85,319.24Z" fill="#1DBDE6"/>
<path d="M124.30,318.16L121.25,323.44L127.35,323.44Z" fill="#1DBDE6"/>
<circle cx="139.3" cy="310.2" r="2.45" fill="#1DBDE6"/>
<path d="M127.60,310.46L124.55,315.74L130.65,315.74Z" fill="#1DBDE6"/>
<path d="M131.40,318.06L128.35,323.34L134.45,323.34Z" fill="#1DBDE6"/>
<circle cx="134.3" cy="315.4" r="2.45" fill="#1DBDE6"/>
<path d="M136.00,312.26L132.95,317.54L139.05,317.54Z" fill="#1DBDE6"/>
<path d="M135.40,315.16L132.35,320.44L138.45,320.44Z" fill="#1DBDE6"/>
<circle cx="141.9" cy="318.4" r="2.45" fill="#1DBDE6"/>
<circle cx="143.6" cy="319.3" r="2.45" fill="#1DBDE6"/>
<path d="M140.10,316.26L137.05,321.54L143.15,321.54Z" fill="#1DBDE6"/>
<circle cx="110.2" cy="336.5" r="2.45" fill="#2EB85E"/>
<circle cx="119.2" cy="345.8" r="2.45" fill="#2EB85E"/>
<path d="M124.10,344.16L121.05,349.44L127.15,349.44Z" fill="#2EB85E"/>
<circle cx="129.6" cy="348.1" r="2.45" fill="#2EB85E"/>
<path d="M136.60,340.86L133.55,346.14L139.65,346.14Z" fill="#2EB85E"/>
<path d="M144.20,340.26L141.15,345.54L147.25,345.54Z" fill="#2EB85E"/>
<path d="M148.30,339.66L145.25,344.94L151.35,344.94Z" fill="#2EB85E"/>
<path d="M155.90,336.96L152.85,342.24L158.95,342.24Z" fill="#2EB85E"/>
<circle cx="159.4" cy="339.4" r="2.45" fill="#2EB85E"/>
<path d="M171.70,334.26L168.65,339.54L174.75,339.54Z" fill="#2EB85E"/>
<path d="M183.80,329.96L180.75,335.24L186.85,335.24Z" fill="#2EB85E"/>
<path d="M171.00,311.06L167.95,316.34L174.05,316.34Z" fill="#6CB748"/>
<path d="M176.50,308.96L173.45,314.24L179.55,314.24Z" fill="#6CB748"/>
<circle cx="184.0" cy="315.1" r="2.45" fill="#6CB748"/>
<path d="M185.00,313.96L181.95,319.24L188.05,319.24Z" fill="#6CB748"/>
<path d="M184.20,316.96L181.15,322.24L187.25,322.24Z" fill="#6CB748"/>
<path d="M187.50,317.96L184.45,323.24L190.55,323.24Z" fill="#6CB748"/>
<circle cx="192.0" cy="323.0" r="2.45" fill="#6CB748"/>
<path d="M190.40,323.26L187.35,328.54L193.45,328.54Z" fill="#6CB748"/>
<path d="M193.60,326.26L190.55,331.54L196.65,331.54Z" fill="#6CB748"/>
<path d="M198.00,322.96L194.95,328.24L201.05,328.24Z" fill="#6CB748"/>
<circle cx="198.6" cy="327.5" r="2.45" fill="#6CB748"/>
<circle cx="201.0" cy="319.3" r="2.45" fill="#6CB748"/>
<circle cx="206.0" cy="321.6" r="2.45" fill="#6CB748"/>
<path d="M181.30,348.06L178.25,353.34L184.35,353.34Z" fill="#F0746C"/>
<path d="M185.80,346.06L182.75,351.34L188.85,351.34Z" fill="#F0746C"/>
<path d="M191.60,348.46L188.55,353.74L194.65,353.74Z" fill="#F0746C"/>
<path d="M185.00,351.36L181.95,356.64L188.05,356.64Z" fill="#F0746C"/>
<path d="M181.50,354.26L178.45,359.54L184.55,359.54Z" fill="#F0746C"/>
<circle cx="176.4" cy="356.4" r="2.45" fill="#F0746C"/>
<path d="M145.30,359.36L142.25,364.64L148.35,364.64Z" fill="#F0746C"/>
<circle cx="150.7" cy="363.6" r="2.45" fill="#F0746C"/>
<circle cx="155.2" cy="360.8" r="2.45" fill="#F0746C"/>
<circle cx="157.5" cy="359.6" r="2.45" fill="#F0746C"/>
<circle cx="164.3" cy="358.9" r="2.45" fill="#F0746C"/>
<path d="M157.50,363.66L154.45,368.94L160.55,368.94Z" fill="#F0746C"/>
<circle cx="188.8" cy="378.8" r="2.45" fill="#B0A434"/>
<circle cx="191.1" cy="379.1" r="2.45" fill="#B0A434"/>
<path d="M194.00,374.66L190.95,379.94L197.05,379.94Z" fill="#B0A434"/>
<path d="M197.20,379.06L194.15,384.34L200.25,384.34Z" fill="#B0A434"/>
<path d="M199.30,379.36L196.25,384.64L202.35,384.64Z" fill="#B0A434"/>
<path d="M203.40,379.06L200.35,384.34L206.45,384.34Z" fill="#B0A434"/>
<path d="M206.60,377.26L203.55,382.54L209.65,382.54Z" fill="#B0A434"/>
<circle cx="203.6" cy="385.8" r="2.45" fill="#B0A434"/>
<path d="M203.90,381.36L200.85,386.64L206.95,386.64Z" fill="#B0A434"/>
<path d="M196.60,384.26L193.55,389.54L199.65,389.54Z" fill="#B0A434"/>
<path d="M201.30,386.96L198.25,392.24L204.35,392.24Z" fill="#B0A434"/>
<path d="M208.00,388.36L204.95,393.64L211.05,393.64Z" fill="#B0A434"/>
<circle cx="212.4" cy="385.5" r="2.45" fill="#B0A434"/>
<path d="M213.90,380.76L210.85,386.04L216.95,386.04Z" fill="#B0A434"/>
<circle cx="228.6" cy="402.3" r="2.45" fill="#E2902F"/>
<path d="M232.10,399.66L229.05,404.94L235.15,404.94Z" fill="#E2902F"/>
<circle cx="243.2" cy="407.5" r="2.45" fill="#E2902F"/>
<circle cx="243.8" cy="409.3" r="2.45" fill="#E2902F"/>
<path d="M224.50,409.56L221.45,414.84L227.55,414.84Z" fill="#E2902F"/>
<circle cx="229.8" cy="412.2" r="2.45" fill="#E2902F"/>
<path d="M228.00,411.86L224.95,417.14L231.05,417.14Z" fill="#E2902F"/>
<path d="M226.90,414.76L223.85,420.04L229.95,420.04Z" fill="#E2902F"/>
<path d="M231.50,414.46L228.45,419.74L234.55,419.74Z" fill="#E2902F"/>
<path d="M236.20,411.86L233.15,417.14L239.25,417.14Z" fill="#E2902F"/>
<path d="M238.50,410.76L235.45,416.04L241.55,416.04Z" fill="#E2902F"/>
<path d="M240.90,411.26L237.85,416.54L243.95,416.54Z" fill="#E2902F"/>
<circle cx="255.5" cy="440.2" r="2.45" fill="#9A86C8"/>
<path d="M258.00,436.96L254.95,442.24L261.05,442.24Z" fill="#9A86C8"/>
<circle cx="243.8" cy="442.5" r="2.45" fill="#9A86C8"/>
<path d="M246.40,440.46L243.35,445.74L249.45,445.74Z" fill="#9A86C8"/>
<path d="M240.50,443.36L237.45,448.64L243.55,448.64Z" fill="#9A86C8"/>
<path d="M243.40,445.76L240.35,451.04L246.45,451.04Z" fill="#9A86C8"/>
<path d="M241.70,448.66L238.65,453.94L244.75,453.94Z" fill="#9A86C8"/>
<circle cx="251.6" cy="448.4" r="2.45" fill="#9A86C8"/>
<circle cx="258.4" cy="447.2" r="2.45" fill="#9A86C8"/>
<path d="M255.70,448.96L252.65,454.24L258.75,454.24Z" fill="#9A86C8"/>
<path d="M261.00,456.86L257.95,462.14L264.05,462.14Z" fill="#C46CB5"/>
<circle cx="252.2" cy="462.4" r="2.45" fill="#C46CB5"/>
<path d="M250.40,461.46L247.35,466.74L253.45,466.74Z" fill="#C46CB5"/>
<circle cx="253.9" cy="465.3" r="2.45" fill="#C46CB5"/>
<circle cx="256.9" cy="465.9" r="2.45" fill="#C46CB5"/>
<circle cx="259.2" cy="466.5" r="2.45" fill="#C46CB5"/>
<circle cx="261.8" cy="467.6" r="2.45" fill="#C46CB5"/>
<path d="M267.60,460.86L264.55,466.14L270.65,466.14Z" fill="#C46CB5"/>
<path d="M272.60,461.26L269.55,466.54L275.65,466.54Z" fill="#C46CB5"/>
<circle cx="287.2" cy="447.8" r="2.45" fill="#EF62A8"/>
<circle cx="282.6" cy="453.6" r="2.45" fill="#EF62A8"/>
<path d="M287.20,453.36L284.15,458.64L290.25,458.64Z" fill="#EF62A8"/>
<circle cx="276.7" cy="459.5" r="2.45" fill="#EF62A8"/>
<circle cx="279.0" cy="460.0" r="2.45" fill="#EF62A8"/>
<circle cx="282.0" cy="458.9" r="2.45" fill="#EF62A8"/>
<circle cx="283.7" cy="457.7" r="2.45" fill="#EF62A8"/>
<path d="M289.80,459.76L286.75,465.04L292.85,465.04Z" fill="#EF62A8"/>
<path d="M296.30,453.36L293.25,458.64L299.35,458.64Z" fill="#EF62A8"/>
<path d="M295.40,456.26L292.35,461.54L298.45,461.54Z" fill="#EF62A8"/>
<path d="M375.70,306.36L372.65,311.64L378.75,311.64Z" fill="#3E9BDD"/>
<path d="M375.70,307.96L372.65,313.24L378.75,313.24Z" fill="#1DBDE6"/>
<circle cx="383.9" cy="309.2" r="2.45" fill="#2EB85E"/>
<circle cx="380.4" cy="316.2" r="2.45" fill="#EF62A8"/>
<circle cx="399.6" cy="310.1" r="2.45" fill="#1DBDE6"/>
<path d="M428.00,302.06L424.95,307.34L431.05,307.34Z" fill="#6CB748"/>
<path d="M421.80,308.66L418.75,313.94L424.85,313.94Z" fill="#1FBFA8"/>
<path d="M428.80,308.86L425.75,314.14L431.85,314.14Z" fill="#6CB748"/>
<path d="M440.60,320.56L437.55,325.84L443.65,325.84Z" fill="#3E9BDD"/>
<path d="M418.70,322.66L415.65,327.94L421.75,327.94Z" fill="#E2902F"/>
<path d="M414.20,324.66L411.15,329.94L417.25,329.94Z" fill="#9A86C8"/>
<path d="M407.80,328.76L404.75,334.04L410.85,334.04Z" fill="#B0A434"/>
<circle cx="390.6" cy="338.6" r="2.45" fill="#F0746C"/>
<path d="M393.40,336.66L390.35,341.94L396.45,341.94Z" fill="#E2902F"/>
<circle cx="421.8" cy="341.3" r="2.45" fill="#F0746C"/>
<circle cx="381.3" cy="345.7" r="2.45" fill="#9A86C8"/>
<circle cx="422.7" cy="348.1" r="2.45" fill="#6CB748"/>
<circle cx="432.3" cy="349.2" r="2.45" fill="#1FBFA8"/>
<path d="M397.50,347.26L394.45,352.54L400.55,352.54Z" fill="#B0A434"/>
<path d="M389.10,348.76L386.05,354.04L392.15,354.04Z" fill="#F0746C"/>
<path d="M387.90,350.76L384.85,356.04L390.95,356.04Z" fill="#F0746C"/>
<path d="M404.30,351.76L401.25,357.04L407.35,357.04Z" fill="#E2902F"/>
<circle cx="388.0" cy="363.7" r="2.45" fill="#3E9BDD"/>
<circle cx="418.3" cy="361.9" r="2.45" fill="#2EB85E"/>
<path d="M441.10,360.16L438.05,365.44L444.15,365.44Z" fill="#2EB85E"/>
<path d="M439.70,363.36L436.65,368.64L442.75,368.64Z" fill="#6CB748"/>
<path d="M445.80,303.26L442.75,308.54L448.85,308.54Z" fill="#C46CB5"/>
<path d="M452.00,307.36L448.95,312.64L455.05,312.64Z" fill="#9A86C8"/>
<path d="M465.50,299.76L462.45,305.04L468.55,305.04Z" fill="#E2902F"/>
<path d="M494.30,302.66L491.25,307.94L497.35,307.94Z" fill="#1DBDE6"/>
<circle cx="501.5" cy="301.9" r="2.45" fill="#2EB85E"/>
<path d="M487.50,309.46L484.45,314.74L490.55,314.74Z" fill="#EF62A8"/>
<circle cx="506.0" cy="315.0" r="2.45" fill="#1FBFA8"/>
<circle cx="506.0" cy="321.8" r="2.45" fill="#1FBFA8"/>
<path d="M473.60,317.66L470.55,322.94L476.65,322.94Z" fill="#B0A434"/>
<path d="M470.10,321.16L467.05,326.44L473.15,326.44Z" fill="#1FBFA8"/>
<path d="M470.70,325.86L467.65,331.14L473.75,331.14Z" fill="#C46CB5"/>
<path d="M458.50,328.46L455.45,333.74L461.55,333.74Z" fill="#EF62A8"/>
<path d="M444.00,332.06L440.95,337.34L447.05,337.34Z" fill="#9A86C8"/>
<path d="M448.40,335.76L445.35,341.04L451.45,341.04Z" fill="#E2902F"/>
<path d="M449.90,339.46L446.85,344.74L452.95,344.74Z" fill="#3E9BDD"/>
<path d="M471.30,341.36L468.25,346.64L474.35,346.64Z" fill="#B0A434"/>
<path d="M489.60,334.76L486.55,340.04L492.65,340.04Z" fill="#EF62A8"/>
<path d="M494.30,347.06L491.25,352.34L497.35,352.34Z" fill="#2EB85E"/>
<path d="M500.50,346.26L497.45,351.54L503.55,351.54Z" fill="#E2902F"/>
<circle cx="462.4" cy="352.6" r="2.45" fill="#F0746C"/>
<path d="M522.60,339.56L519.55,344.84L525.65,344.84Z" fill="#C46CB5"/>
<circle cx="553.2" cy="345.0" r="2.45" fill="#6CB748"/>
<circle cx="563.5" cy="338.7" r="2.45" fill="#2EB85E"/>
<circle cx="562.1" cy="341.9" r="2.45" fill="#F0746C"/>
<circle cx="573.7" cy="344.2" r="2.45" fill="#1DBDE6"/>
<circle cx="579.2" cy="333.7" r="2.45" fill="#6CB748"/>
<circle cx="577.7" cy="332.5" r="2.45" fill="#EF62A8"/>
<circle cx="585.4" cy="339.9" r="2.45" fill="#E2902F"/>
<circle cx="592.4" cy="344.2" r="2.45" fill="#9A86C8"/>
<circle cx="558.6" cy="352.1" r="2.45" fill="#C46CB5"/>
<circle cx="540.0" cy="354.5" r="2.45" fill="#3E9BDD"/>
<path d="M505.00,351.46L501.95,356.74L508.05,356.74Z" fill="#EF62A8"/>
<circle cx="464.8" cy="361.1" r="2.45" fill="#B0A434"/>
<path d="M467.70,361.96L464.65,367.24L470.75,367.24Z" fill="#1DBDE6"/>
<circle cx="452.8" cy="366.8" r="2.45" fill="#B0A434"/>
<path d="M478.30,370.16L475.25,375.44L481.35,375.44Z" fill="#E2902F"/>
<path d="M478.00,367.16L474.95,372.44L481.05,372.44Z" fill="#2EB85E"/>
<path d="M486.40,365.46L483.35,370.74L489.45,370.74Z" fill="#B0A434"/>
<path d="M508.90,365.46L505.85,370.74L511.95,370.74Z" fill="#2EB85E"/>
<circle cx="516.2" cy="375.6" r="2.45" fill="#C46CB5"/>
<path d="M453.20,375.86L450.15,381.14L456.25,381.14Z" fill="#9A86C8"/>
<circle cx="456.4" cy="382.4" r="2.45" fill="#2EB85E"/>
<circle cx="444.1" cy="385.5" r="2.45" fill="#C46CB5"/>
<path d="M483.60,378.36L480.55,383.64L486.65,383.64Z" fill="#1FBFA8"/>
<path d="M503.60,378.36L500.55,383.64L506.65,383.64Z" fill="#1DBDE6"/>
<path d="M471.80,389.66L468.75,394.94L474.85,394.94Z" fill="#1DBDE6"/>
<path d="M484.70,392.86L481.65,398.14L487.75,398.14Z" fill="#1FBFA8"/>
<path d="M513.80,389.66L510.75,394.94L516.85,394.94Z" fill="#1FBFA8"/>
<path d="M508.60,399.86L505.55,405.14L511.65,405.14Z" fill="#2EB85E"/>
<circle cx="532.9" cy="357.8" r="2.45" fill="#E2902F"/>
<circle cx="561.5" cy="356.1" r="2.45" fill="#EF62A8"/>
<circle cx="577.7" cy="356.7" r="2.45" fill="#9A86C8"/>
<circle cx="577.5" cy="361.7" r="2.45" fill="#B0A434"/>
<path d="M533.50,364.76L530.45,370.04L536.55,370.04Z" fill="#2EB85E"/>
<path d="M542.70,367.46L539.65,372.74L545.75,372.74Z" fill="#1FBFA8"/>
<path d="M551.40,368.26L548.35,373.54L554.45,373.54Z" fill="#B0A434"/>
<circle cx="539.8" cy="375.1" r="2.45" fill="#3E9BDD"/>
<circle cx="575.1" cy="371.6" r="2.45" fill="#1FBFA8"/>
<circle cx="578.1" cy="374.2" r="2.45" fill="#F0746C"/>
<path d="M576.70,375.06L573.65,380.34L579.75,380.34Z" fill="#1FBFA8"/>
<path d="M531.40,381.86L528.35,387.14L534.45,387.14Z" fill="#C46CB5"/>
<path d="M542.70,386.96L539.65,392.24L545.75,392.24Z" fill="#9A86C8"/>
<path d="M551.40,390.46L548.35,395.74L554.45,395.74Z" fill="#EF62A8"/>
<path d="M575.50,389.66L572.45,394.94L578.55,394.94Z" fill="#1DBDE6"/>
<path d="M579.20,387.66L576.15,392.94L582.25,392.94Z" fill="#3E9BDD"/>
<path d="M570.50,396.06L567.45,401.34L573.55,401.34Z" fill="#3E9BDD"/>
<path d="M574.00,395.46L570.95,400.74L577.05,400.74Z" fill="#3E9BDD"/>
<path d="M588.30,398.96L585.25,404.24L591.35,404.24Z" fill="#1DBDE6"/>
<circle cx="600.6" cy="381.3" r="2.45" fill="#1DBDE6"/>
<circle cx="609.2" cy="399.3" r="2.45" fill="#E2902F"/>
<path d="M510.90,415.36L507.85,420.64L513.95,420.64Z" fill="#2EB85E"/>
<circle cx="485.7" cy="421.9" r="2.45" fill="#9A86C8"/>
<circle cx="494.3" cy="425.9" r="2.45" fill="#C46CB5"/>
<path d="M506.30,423.06L503.25,428.34L509.35,428.34Z" fill="#F0746C"/>
<circle cx="511.4" cy="442.8" r="2.45" fill="#1DBDE6"/>
<path d="M504.90,445.66L501.85,450.94L507.95,450.94Z" fill="#9A86C8"/>
<circle cx="506.3" cy="451.2" r="2.45" fill="#3E9BDD"/>
<circle cx="514.5" cy="454.8" r="2.45" fill="#1FBFA8"/>
<path d="M531.10,401.96L528.05,407.24L534.15,407.24Z" fill="#EF62A8"/>
<path d="M554.40,403.46L551.35,408.74L557.45,408.74Z" fill="#F0746C"/>
<path d="M575.30,403.26L572.25,408.54L578.35,408.54Z" fill="#6CB748"/>
<path d="M544.50,414.26L541.45,419.54L547.55,419.54Z" fill="#B0A434"/>
<path d="M563.70,413.46L560.65,418.74L566.75,418.74Z" fill="#3E9BDD"/>
<path d="M581.80,413.06L578.75,418.34L584.85,418.34Z" fill="#6CB748"/>
<path d="M589.50,410.96L586.45,416.24L592.55,416.24Z" fill="#9A86C8"/>
<path d="M595.70,405.66L592.65,410.94L598.75,410.94Z" fill="#1FBFA8"/>
<path d="M522.90,422.16L519.85,427.44L525.95,427.44Z" fill="#1DBDE6"/>
<path d="M551.00,420.76L547.95,426.04L554.05,426.04Z" fill="#C46CB5"/>
<circle cx="579.1" cy="426.3" r="2.45" fill="#6CB748"/>
<circle cx="556.4" cy="433.9" r="2.45" fill="#1DBDE6"/>
<path d="M532.60,436.56L529.55,441.84L535.65,441.84Z" fill="#E2902F"/>
<circle cx="538.8" cy="442.5" r="2.45" fill="#EF62A8"/>
<circle cx="539.2" cy="447.9" r="2.45" fill="#2EB85E"/>
<path d="M522.20,447.06L519.15,452.34L525.25,452.34Z" fill="#2EB85E"/>
<path d="M545.00,452.86L541.95,458.14L548.05,458.14Z" fill="#F0746C"/>
<circle cx="559.4" cy="450.0" r="2.45" fill="#E2902F"/>
<path d="M566.20,443.76L563.15,449.04L569.25,449.04Z" fill="#9A86C8"/>
<circle cx="566.2" cy="449.7" r="2.45" fill="#3E9BDD"/>
<path d="M571.50,451.36L568.45,456.64L574.55,456.64Z" fill="#3E9BDD"/>
<path d="M578.90,443.76L575.85,449.04L581.95,449.04Z" fill="#F0746C"/>
<path d="M586.60,439.76L583.55,445.04L589.65,445.04Z" fill="#2EB85E"/>
<path d="M593.60,431.16L590.55,436.44L596.65,436.44Z" fill="#F0746C"/>
<path d="M556.10,462.26L553.05,467.54L559.15,467.54Z" fill="#6CB748"/>
<circle cx="564.3" cy="463.7" r="2.45" fill="#B0A434"/>
<path d="M568.80,464.36L565.75,469.64L571.85,469.64Z" fill="#B0A434"/>
<circle cx="573.4" cy="463.7" r="2.45" fill="#B0A434"/>
<path d="M599.70,414.86L596.65,420.14L602.75,420.14Z" fill="#F0746C"/>
<path d="M608.70,416.06L605.65,421.34L611.75,421.34Z" fill="#2EB85E"/>
<circle cx="617.3" cy="418.7" r="2.45" fill="#E2902F"/>
<rect x="43" y="19.5" width="265.30" height="182.80" fill="none" stroke="#9A9A9A" stroke-width="1.6"/>
<line x1="72.10" y1="202.3" x2="72.10" y2="205.70" stroke="#333333" stroke-width="1.4"/>
<text transform="translate(68.10,217.60) scale(0.92,1)" text-anchor="middle" font-size="10.4" fill="#4D4D4D" stroke="#4D4D4D" stroke-width="0.25">−20</text>
<line x1="128.10" y1="202.3" x2="128.10" y2="205.70" stroke="#333333" stroke-width="1.4"/>
<text transform="translate(124.10,217.60) scale(0.92,1)" text-anchor="middle" font-size="10.4" fill="#4D4D4D" stroke="#4D4D4D" stroke-width="0.25">−10</text>
<line x1="184.10" y1="202.3" x2="184.10" y2="205.70" stroke="#333333" stroke-width="1.4"/>
<text transform="translate(184.10,217.60) scale(0.92,1)" text-anchor="middle" font-size="10.4" fill="#4D4D4D" stroke="#4D4D4D" stroke-width="0.25">0</text>
<line x1="240.10" y1="202.3" x2="240.10" y2="205.70" stroke="#333333" stroke-width="1.4"/>
<text transform="translate(240.10,217.60) scale(0.92,1)" text-anchor="middle" font-size="10.4" fill="#4D4D4D" stroke="#4D4D4D" stroke-width="0.25">10</text>
<line x1="296.10" y1="202.3" x2="296.10" y2="205.70" stroke="#333333" stroke-width="1.4"/>
<text transform="translate(296.10,217.60) scale(0.92,1)" text-anchor="middle" font-size="10.4" fill="#4D4D4D" stroke="#4D4D4D" stroke-width="0.25">20</text>
<line x1="39.60" y1="55.90" x2="43" y2="55.90" stroke="#333333" stroke-width="1.4"/>
<text transform="translate(36.90,58.80) scale(0.92,1)" text-anchor="end" font-size="10.4" fill="#4D4D4D" stroke="#4D4D4D" stroke-width="0.25">10</text>
<line x1="39.60" y1="97.70" x2="43" y2="97.70" stroke="#333333" stroke-width="1.4"/>
<text transform="translate(36.90,100.60) scale(0.92,1)" text-anchor="end" font-size="10.4" fill="#4D4D4D" stroke="#4D4D4D" stroke-width="0.25">0</text>
<line x1="39.60" y1="139.50" x2="43" y2="139.50" stroke="#333333" stroke-width="1.4"/>
<text transform="translate(36.90,142.40) scale(0.92,1)" text-anchor="end" font-size="10.4" fill="#4D4D4D" stroke="#4D4D4D" stroke-width="0.25">−10</text>
<line x1="39.60" y1="181.30" x2="43" y2="181.30" stroke="#333333" stroke-width="1.4"/>
<text transform="translate(36.90,184.20) scale(0.92,1)" text-anchor="end" font-size="10.4" fill="#4D4D4D" stroke="#4D4D4D" stroke-width="0.25">−20</text>
<rect x="364.5" y="18.5" width="265.00" height="182.60" fill="none" stroke="#9A9A9A" stroke-width="1.6"/>
<line x1="393.70" y1="201.1" x2="393.70" y2="204.50" stroke="#333333" stroke-width="1.4"/>
<text transform="translate(389.70,217.20) scale(0.92,1)" text-anchor="middle" font-size="10.4" fill="#4D4D4D" stroke="#4D4D4D" stroke-width="0.25">−20</text>
<line x1="455.40" y1="201.1" x2="455.40" y2="204.50" stroke="#333333" stroke-width="1.4"/>
<text transform="translate(451.40,217.20) scale(0.92,1)" text-anchor="middle" font-size="10.4" fill="#4D4D4D" stroke="#4D4D4D" stroke-width="0.25">−10</text>
<line x1="517.10" y1="201.1" x2="517.10" y2="204.50" stroke="#333333" stroke-width="1.4"/>
<text transform="translate(517.10,217.20) scale(0.92,1)" text-anchor="middle" font-size="10.4" fill="#4D4D4D" stroke="#4D4D4D" stroke-width="0.25">0</text>
<line x1="578.80" y1="201.1" x2="578.80" y2="204.50" stroke="#333333" stroke-width="1.4"/>
<text transform="translate(578.80,217.20) scale(0.92,1)" text-anchor="middle" font-size="10.4" fill="#4D4D4D" stroke="#4D4D4D" stroke-width="0.25">10</text>
<line x1="361.10" y1="34.10" x2="364.5" y2="34.10" stroke="#333333" stroke-width="1.4"/>
<text transform="translate(358.80,37.60) scale(0.92,1)" text-anchor="end" font-size="10.4" fill="#4D4D4D" stroke="#4D4D4D" stroke-width="0.25">10</text>
<line x1="361.10" y1="88.00" x2="364.5" y2="88.00" stroke="#333333" stroke-width="1.4"/>
<text transform="translate(358.80,91.50) scale(0.92,1)" text-anchor="end" font-size="10.4" fill="#4D4D4D" stroke="#4D4D4D" stroke-width="0.25">0</text>
<line x1="361.10" y1="141.90" x2="364.5" y2="141.90" stroke="#333333" stroke-width="1.4"/>
<text transform="translate(358.80,145.40) scale(0.92,1)" text-anchor="end" font-size="10.4" fill="#4D4D4D" stroke="#4D4D4D" stroke-width="0.25">−10</text>
<line x1="361.10" y1="195.80" x2="364.5" y2="195.80" stroke="#333333" stroke-width="1.4"/>
<text transform="translate(358.80,199.30) scale(0.92,1)" text-anchor="end" font-size="10.4" fill="#4D4D4D" stroke="#4D4D4D" stroke-width="0.25">−20</text>
<rect x="43" y="294.4" width="265.30" height="180.90" fill="none" stroke="#9A9A9A" stroke-width="1.6"/>
<line x1="50.40" y1="475.3" x2="50.40" y2="478.70" stroke="#333333" stroke-width="1.4"/>
<text transform="translate(47.80,492.00) scale(0.92,1)" text-anchor="middle" font-size="10.4" fill="#4D4D4D" stroke="#4D4D4D" stroke-width="0.25">−4</text>
<line x1="115.70" y1="475.3" x2="115.70" y2="478.70" stroke="#333333" stroke-width="1.4"/>
<text transform="translate(113.10,492.00) scale(0.92,1)" text-anchor="middle" font-size="10.4" fill="#4D4D4D" stroke="#4D4D4D" stroke-width="0.25">−2</text>
<line x1="181.00" y1="475.3" x2="181.00" y2="478.70" stroke="#333333" stroke-width="1.4"/>
<text transform="translate(181.00,492.00) scale(0.92,1)" text-anchor="middle" font-size="10.4" fill="#4D4D4D" stroke="#4D4D4D" stroke-width="0.25">0</text>
<line x1="246.30" y1="475.3" x2="246.30" y2="478.70" stroke="#333333" stroke-width="1.4"/>
<text transform="translate(246.30,492.00) scale(0.92,1)" text-anchor="middle" font-size="10.4" fill="#4D4D4D" stroke="#4D4D4D" stroke-width="0.25">2</text>
<line x1="39.60" y1="304.20" x2="43" y2="304.20" stroke="#333333" stroke-width="1.4"/>
<text transform="translate(32.40,308.50) scale(0.92,1)" text-anchor="end" font-size="10.4" fill="#4D4D4D" stroke="#4D4D4D" stroke-width="0.25">4</text>
<line x1="39.60" y1="336.80" x2="43" y2="336.80" stroke="#333333" stroke-width="1.4"/>
<text transform="translate(32.40,341.10) scale(0.92,1)" text-anchor="end" font-size="10.4" fill="#4D4D4D" stroke="#4D4D4D" stroke-width="0.25">2</text>
<line x1="39.60" y1="369.40" x2="43" y2="369.40" stroke="#333333" stroke-width="1.4"/>
<text transform="translate(32.40,373.70) scale(0.92,1)" text-anchor="end" font-size="10.4" fill="#4D4D4D" stroke="#4D4D4D" stroke-width="0.25">0</text>
<line x1="39.60" y1="402.00" x2="43" y2="402.00" stroke="#333333" stroke-width="1.4"/>
<text transform="translate(32.40,406.30) scale(0.92,1)" text-anchor="end" font-size="10.4" fill="#4D4D4D" stroke="#4D4D4D" stroke-width="0.25">−2</text>
<line x1="39.60" y1="434.60" x2="43" y2="434.60" stroke="#333333" stroke-width="1.4"/>
<text transform="translate(32.40,438.90) scale(0.92,1)" text-anchor="end" font-size="10.4" fill="#4D4D4D" stroke="#4D4D4D" stroke-width="0.25">−4</text>
<line x1="39.60" y1="467.20" x2="43" y2="467.20" stroke="#333333" stroke-width="1.4"/>
<text transform="translate(32.40,471.50) scale(0.92,1)" text-anchor="end" font-size="10.4" fill="#4D4D4D" stroke="#4D4D4D" stroke-width="0.25">−6</text>
<rect x="364" y="294.4" width="265.40" height="181.00" fill="none" stroke="#9A9A9A" stroke-width="1.6"/>
<line x1="378.45" y1="475.4" x2="378.45" y2="478.80" stroke="#333333" stroke-width="1.4"/>
<text transform="translate(375.85,491.70) scale(0.92,1)" text-anchor="middle" font-size="10.4" fill="#4D4D4D" stroke="#4D4D4D" stroke-width="0.25">−3</text>
<line x1="421.20" y1="475.4" x2="421.20" y2="478.80" stroke="#333333" stroke-width="1.4"/>
<text transform="translate(418.60,491.70) scale(0.92,1)" text-anchor="middle" font-size="10.4" fill="#4D4D4D" stroke="#4D4D4D" stroke-width="0.25">−2</text>
<line x1="463.95" y1="475.4" x2="463.95" y2="478.80" stroke="#333333" stroke-width="1.4"/>
<text transform="translate(461.35,491.70) scale(0.92,1)" text-anchor="middle" font-size="10.4" fill="#4D4D4D" stroke="#4D4D4D" stroke-width="0.25">−1</text>
<line x1="506.70" y1="475.4" x2="506.70" y2="478.80" stroke="#333333" stroke-width="1.4"/>
<text transform="translate(506.70,491.70) scale(0.92,1)" text-anchor="middle" font-size="10.4" fill="#4D4D4D" stroke="#4D4D4D" stroke-width="0.25">0</text>
<line x1="549.45" y1="475.4" x2="549.45" y2="478.80" stroke="#333333" stroke-width="1.4"/>
<text transform="translate(549.45,491.70) scale(0.92,1)" text-anchor="middle" font-size="10.4" fill="#4D4D4D" stroke="#4D4D4D" stroke-width="0.25">1</text>
<line x1="592.20" y1="475.4" x2="592.20" y2="478.80" stroke="#333333" stroke-width="1.4"/>
<text transform="translate(592.20,491.70) scale(0.92,1)" text-anchor="middle" font-size="10.4" fill="#4D4D4D" stroke="#4D4D4D" stroke-width="0.25">2</text>
<line x1="360.60" y1="301.20" x2="364" y2="301.20" stroke="#333333" stroke-width="1.4"/>
<text transform="translate(357.20,305.00) scale(0.92,1)" text-anchor="end" font-size="10.4" fill="#4D4D4D" stroke="#4D4D4D" stroke-width="0.25">2</text>
<line x1="360.60" y1="338.50" x2="364" y2="338.50" stroke="#333333" stroke-width="1.4"/>
<text transform="translate(357.20,342.30) scale(0.92,1)" text-anchor="end" font-size="10.4" fill="#4D4D4D" stroke="#4D4D4D" stroke-width="0.25">1</text>
<line x1="360.60" y1="375.80" x2="364" y2="375.80" stroke="#333333" stroke-width="1.4"/>
<text transform="translate(357.20,379.60) scale(0.92,1)" text-anchor="end" font-size="10.4" fill="#4D4D4D" stroke="#4D4D4D" stroke-width="0.25">0</text>
<line x1="360.60" y1="413.10" x2="364" y2="413.10" stroke="#333333" stroke-width="1.4"/>
<text transform="translate(357.20,416.90) scale(0.92,1)" text-anchor="end" font-size="10.4" fill="#4D4D4D" stroke="#4D4D4D" stroke-width="0.25">−1</text>
<line x1="360.60" y1="450.40" x2="364" y2="450.40" stroke="#333333" stroke-width="1.4"/>
<text transform="translate(357.20,454.20) scale(0.92,1)" text-anchor="end" font-size="10.4" fill="#4D4D4D" stroke="#4D4D4D" stroke-width="0.25">−2</text>
<text transform="translate(96.0,11.7) scale(0.972,1)" font-size="13.3" text-anchor="start" fill="#1A1A1A" stroke="#1A1A1A" stroke-width="0.3">Before batch correction</text>
<text transform="translate(424.6,11.5) scale(0.972,1)" font-size="13.3" text-anchor="start" fill="#1A1A1A" stroke="#1A1A1A" stroke-width="0.3">After batch correction</text>
<text transform="translate(133.0,239) scale(0.96,1)" font-size="13.3" text-anchor="start" fill="#1A1A1A" stroke="#1A1A1A" stroke-width="0.3">PC1: 18.6%</text>
<text transform="translate(471.4,239) scale(0.96,1)" font-size="13.3" text-anchor="start" fill="#1A1A1A" stroke="#1A1A1A" stroke-width="0.3">PC1: 16.3%</text>
<text transform="translate(145.0,517.8) scale(0.96,1)" font-size="13.3" text-anchor="start" fill="#1A1A1A" stroke="#1A1A1A" stroke-width="0.3">UMAP1</text>
<text transform="translate(473.4,517.8) scale(0.96,1)" font-size="13.3" text-anchor="start" fill="#1A1A1A" stroke="#1A1A1A" stroke-width="0.3">UMAP1</text>
<text transform="translate(11.5,143.0) rotate(-90) scale(0.96,1)" font-size="13.3" text-anchor="start" fill="#1A1A1A" stroke="#1A1A1A" stroke-width="0.3">PC2: 11.3%</text>
<text transform="translate(335.4,143.6) rotate(-90) scale(0.96,1)" font-size="13.3" text-anchor="start" fill="#1A1A1A" stroke="#1A1A1A" stroke-width="0.3">PC2: 8.6%</text>
<text transform="translate(12.0,420.2) rotate(-90) scale(0.96,1)" font-size="13.3" text-anchor="start" fill="#1A1A1A" stroke="#1A1A1A" stroke-width="0.3">UMAP2</text>
<text transform="translate(335.7,419.9) rotate(-90) scale(0.96,1)" font-size="13.3" text-anchor="start" fill="#1A1A1A" stroke="#1A1A1A" stroke-width="0.3">UMAP2</text>
<text transform="translate(634.4,62.2) scale(0.96,1)" font-size="13.3" text-anchor="start" fill="#1A1A1A" stroke="#1A1A1A" stroke-width="0.3">Group</text>
<text transform="translate(645.8,80.4) scale(0.96,1)" font-size="13.3" text-anchor="start" fill="#1A1A1A" stroke="#1A1A1A" stroke-width="0.3">Mock</text>
<text transform="translate(647.5,102.2) scale(0.96,1)" font-size="13.3" text-anchor="start" fill="#1A1A1A" stroke="#1A1A1A" stroke-width="0.3">ABA</text>
<text transform="translate(637.5,168.7) scale(0.96,1)" font-size="13.3" text-anchor="start" fill="#1A1A1A" stroke="#1A1A1A" stroke-width="0.3">Batch</text>
<circle cx="636.6" cy="76.6" r="3.2" fill="#000"/>
<path d="M636.60,93.68L632.30,101.13L640.90,101.13Z" fill="#000"/>
<circle cx="654.8" cy="189.80" r="3.3" fill="#F0746C"/>
<text transform="translate(669.5,194.3) scale(0.96,1)" font-size="13.3" text-anchor="start" fill="#1A1A1A" stroke="#1A1A1A" stroke-width="0.3">1</text>
<circle cx="654.8" cy="205.15" r="3.3" fill="#6CB748"/>
<text transform="translate(669.5,209.65) scale(0.96,1)" font-size="13.3" text-anchor="start" fill="#1A1A1A" stroke="#1A1A1A" stroke-width="0.3">2</text>
<circle cx="654.8" cy="220.50" r="3.3" fill="#2EB85E"/>
<text transform="translate(669.5,225.0) scale(0.96,1)" font-size="13.3" text-anchor="start" fill="#1A1A1A" stroke="#1A1A1A" stroke-width="0.3">3</text>
<circle cx="654.8" cy="235.85" r="3.3" fill="#1FBFA8"/>
<text transform="translate(669.5,240.35) scale(0.96,1)" font-size="13.3" text-anchor="start" fill="#1A1A1A" stroke="#1A1A1A" stroke-width="0.3">4</text>
<circle cx="654.8" cy="251.20" r="3.3" fill="#1DBDE6"/>
<text transform="translate(669.5,255.7) scale(0.96,1)" font-size="13.3" text-anchor="start" fill="#1A1A1A" stroke="#1A1A1A" stroke-width="0.3">5</text>
<circle cx="654.8" cy="266.55" r="3.3" fill="#3E9BDD"/>
<text transform="translate(669.5,271.05) scale(0.96,1)" font-size="13.3" text-anchor="start" fill="#1A1A1A" stroke="#1A1A1A" stroke-width="0.3">6</text>
<circle cx="654.8" cy="281.90" r="3.3" fill="#9A86C8"/>
<text transform="translate(669.5,286.4) scale(0.96,1)" font-size="13.3" text-anchor="start" fill="#1A1A1A" stroke="#1A1A1A" stroke-width="0.3">7</text>
<circle cx="654.8" cy="297.25" r="3.3" fill="#C46CB5"/>
<text transform="translate(669.5,301.75) scale(0.96,1)" font-size="13.3" text-anchor="start" fill="#1A1A1A" stroke="#1A1A1A" stroke-width="0.3">8</text>
<circle cx="654.8" cy="312.60" r="3.3" fill="#EF62A8"/>
<text transform="translate(669.5,317.1) scale(0.96,1)" font-size="13.3" text-anchor="start" fill="#1A1A1A" stroke="#1A1A1A" stroke-width="0.3">9</text>
<circle cx="654.8" cy="327.95" r="3.3" fill="#E2902F"/>
<text transform="translate(669.5,332.45) scale(0.96,1)" font-size="13.3" text-anchor="start" fill="#1A1A1A" stroke="#1A1A1A" stroke-width="0.3">11</text>
<circle cx="654.8" cy="343.30" r="3.3" fill="#B0A434"/>
<text transform="translate(669.5,347.8) scale(0.96,1)" font-size="13.3" text-anchor="start" fill="#1A1A1A" stroke="#1A1A1A" stroke-width="0.3">12</text>
</svg>
</body></html>
